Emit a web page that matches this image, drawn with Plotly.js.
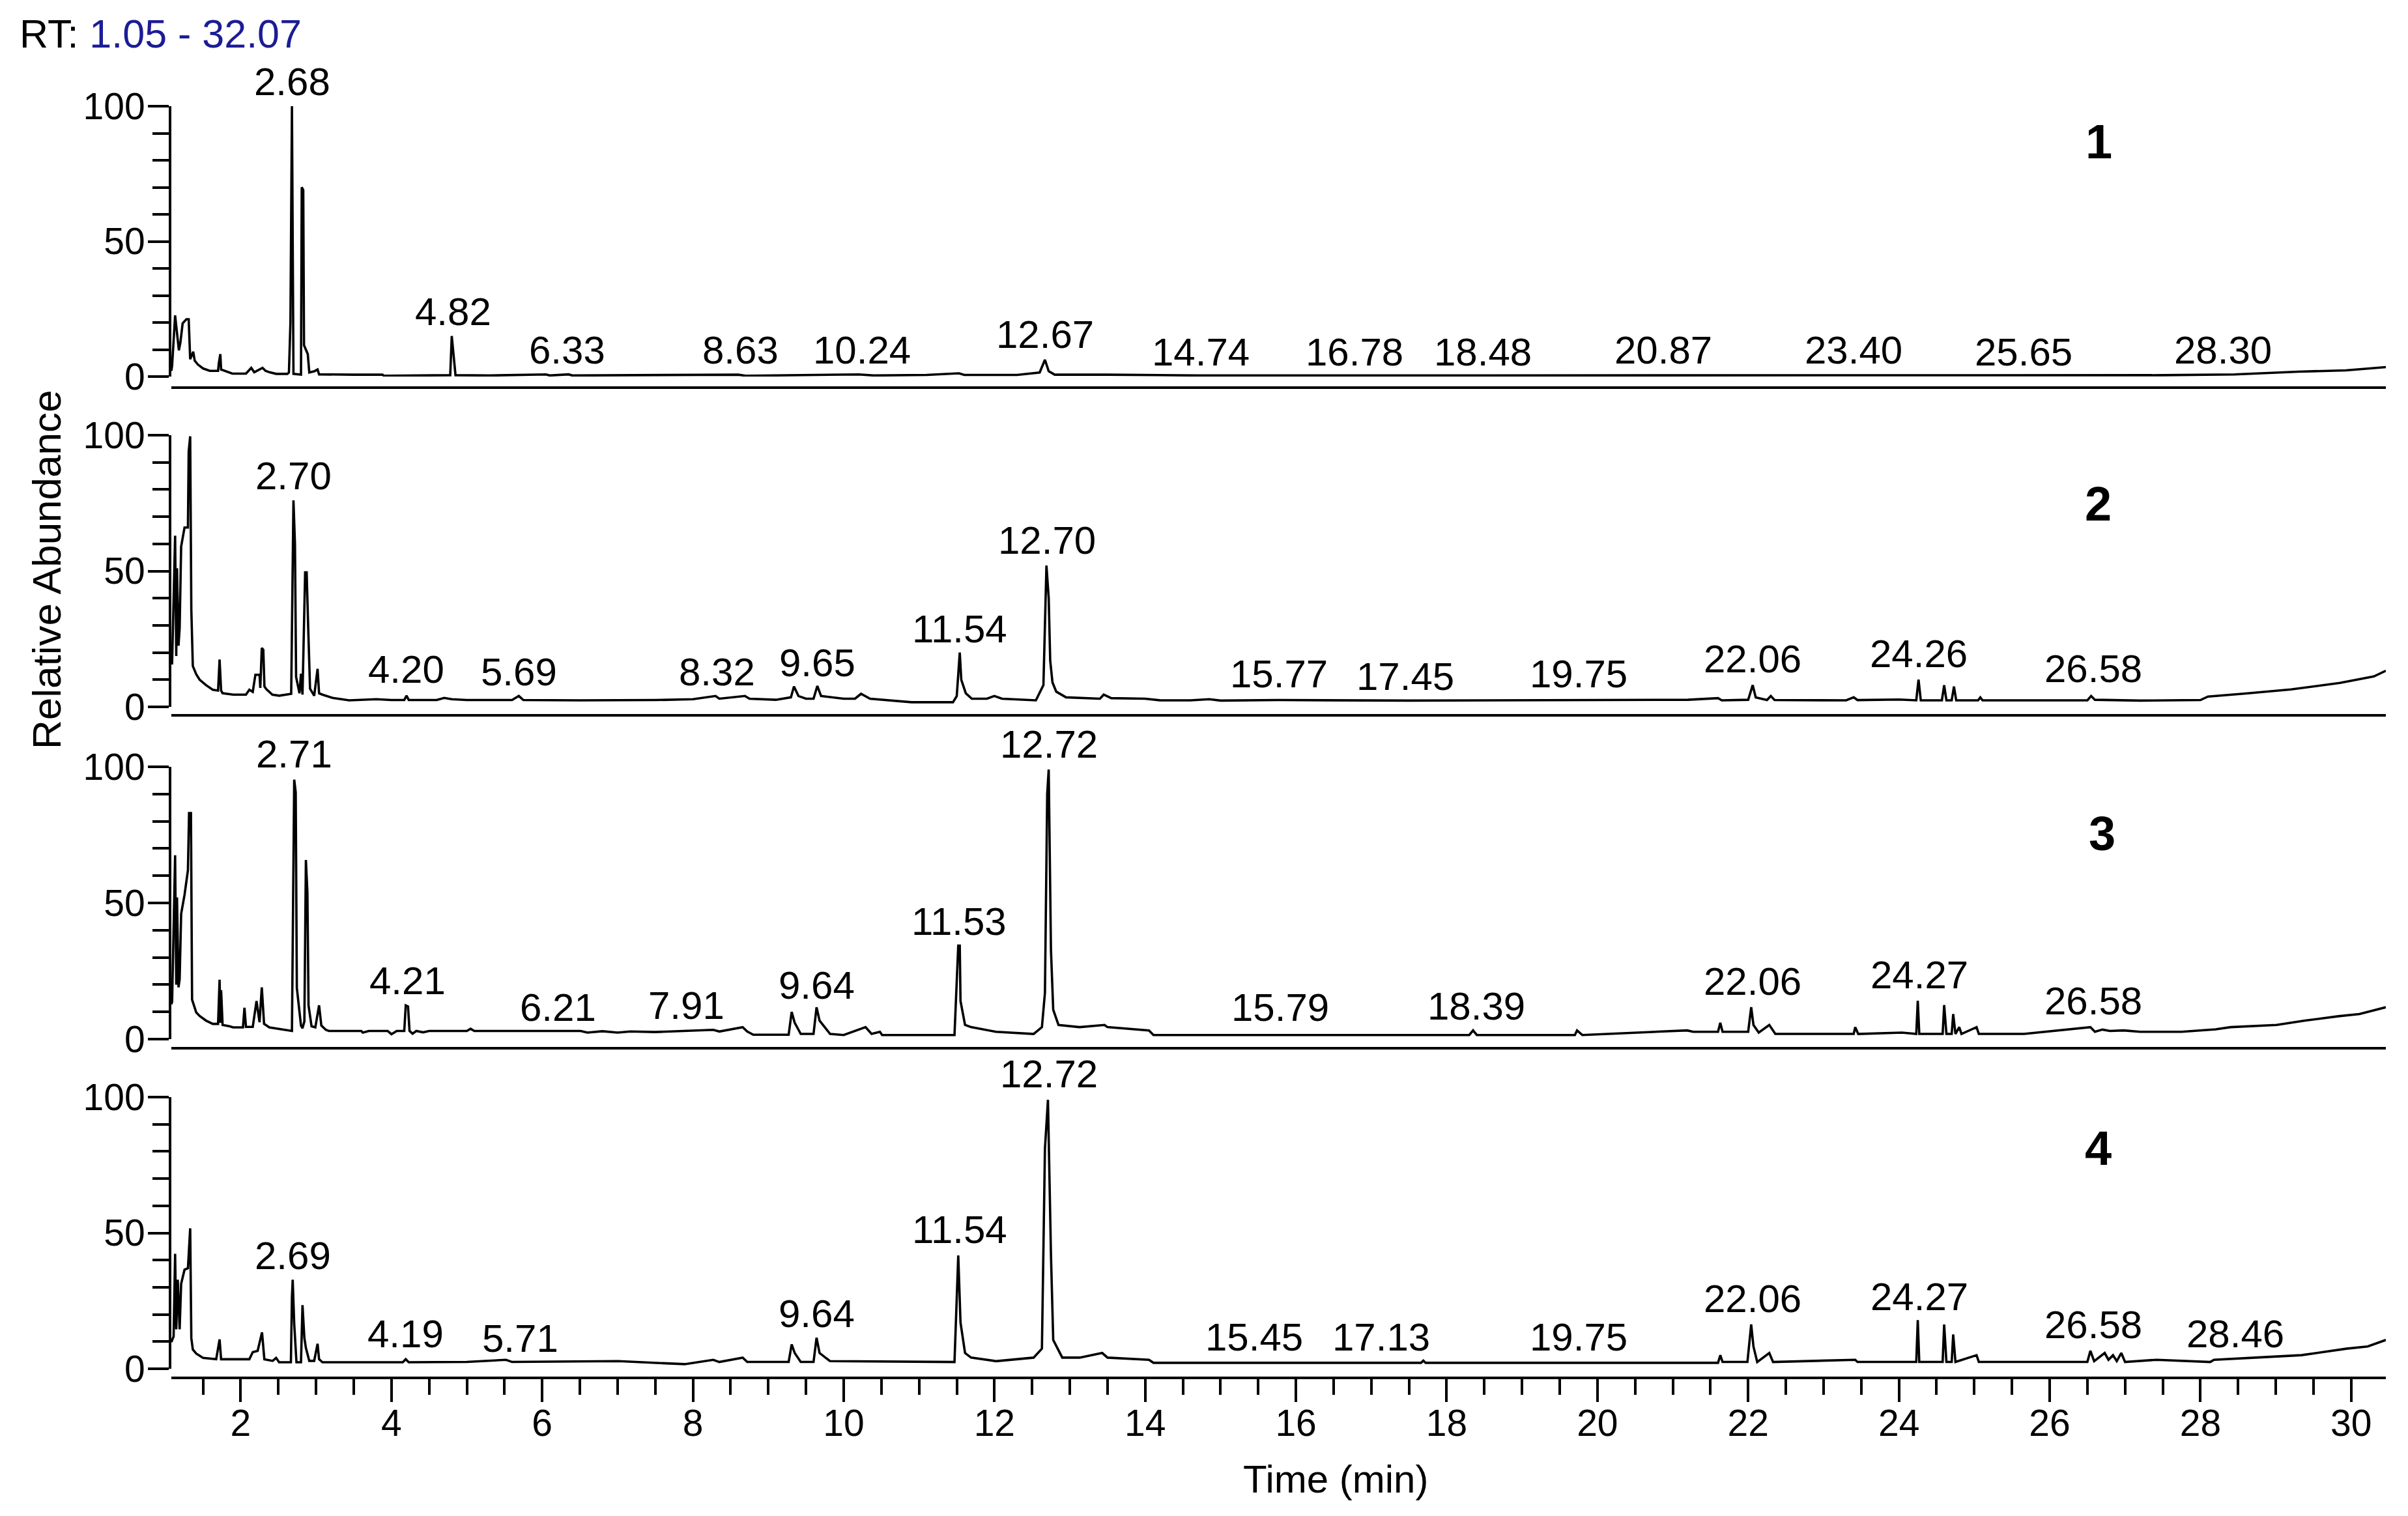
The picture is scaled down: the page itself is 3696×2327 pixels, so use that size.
<!DOCTYPE html>
<html>
<head>
<meta charset="utf-8">
<script src="https://cdn.plot.ly/plotly-3.0.1.min.js"></script>
<style>
  html, body { margin: 0; padding: 0; background: #fff; }
  #chart { width: 3696px; height: 2327px; }
</style>
</head>
<body>
<div id="chart"></div>
<script>
// GC-MS total ion chromatograms, four samples stacked (relative abundance vs RT).

// [time (min), relative abundance] vertices
const trace1 = [
  [1.08,2.1],[1.09,4],[1.13,22.6],[1.15,17.8],[1.18,9.7],[1.20,12.6],[1.23,19.7],[1.28,21.2],[1.31,21.2],
  [1.33,6.4],[1.37,9.2],[1.39,5.9],[1.43,4.5],[1.50,3],[1.59,2.1],[1.70,2.1],[1.71,5],[1.73,8.3],[1.74,2.6],
  [1.89,1.1],[2.07,1.1],[2.14,3.2],[2.18,1.6],[2.29,3.2],[2.33,2.1],[2.38,1.6],[2.47,1],[2.62,1],[2.64,1.5],
  [2.66,20],[2.68,100],[2.70,1],[2.80,0.7],[2.81,70],[2.83,69],[2.84,11.6],[2.89,8.3],[2.91,1.5],[2.98,2],
  [3.02,2.6],[3.04,0.8],[3.5,0.7],[3.88,0.7],[3.9,0.3],[4.3,0.4],[4.78,0.5],[4.80,15],[4.83,5],[4.85,0.5],
  [5.3,0.4],[6.05,0.8],[6.1,0.4],[6.35,0.8],[6.4,0.4],[7.0,0.5],[8.6,0.7],[8.7,0.3],[9.5,0.6],[10.2,0.8],
  [10.4,0.4],[11.1,0.6],[11.53,1.2],[11.6,0.6],[12.3,0.6],[12.6,1.5],[12.67,6.2],[12.72,2],[12.8,0.7],
  [13.5,0.7],[14.7,0.4],[17,0.4],[19,0.4],[20.9,0.6],[23,0.5],[25,0.5],[27.5,0.5],[28.45,0.8],[29.3,1.8],
  [29.93,2.3],[30.25,3],[30.46,3.5]
];
const trace2 = [
  [1.08,16],[1.09,16],[1.13,63],[1.145,18.7],[1.155,51],[1.175,22.5],[1.19,29],[1.21,59],[1.255,66],[1.30,66],
  [1.31,94],[1.33,99.6],[1.345,35.8],[1.365,15],[1.41,12],[1.455,10],[1.54,8],[1.63,6.3],[1.70,6],[1.72,17.4],
  [1.74,6],[1.76,5],[1.90,4.5],[2.07,4.5],[2.115,6.3],[2.16,5.5],[2.195,11.8],[2.25,11.8],[2.26,7],[2.28,21.7],
  [2.30,21],[2.315,7.5],[2.34,6.5],[2.42,4.5],[2.51,4.1],[2.67,4.8],[2.70,76],[2.72,60],[2.735,11],[2.78,5],
  [2.80,12.2],[2.82,4.5],[2.855,49.5],[2.875,49.5],[2.895,29.8],[2.92,6.7],[2.975,4.1],[3.02,14],[3.04,5],
  [3.085,4.5],[3.22,3.3],[3.44,2.4],[3.8,2.8],[4.0,2.5],[4.17,2.5],[4.20,4.1],[4.23,2.5],[4.6,2.5],[4.7,3.3],
  [4.8,2.8],[5.0,2.5],[5.6,2.5],[5.69,4],[5.75,2.5],[6.5,2.4],[7.5,2.5],[8.0,2.8],[8.30,4],[8.35,3],[8.69,4],
  [8.75,3],[9.1,2.6],[9.3,3.5],[9.34,7.5],[9.40,4],[9.5,3],[9.60,3],[9.65,7.7],[9.70,4],[10.0,3],[10.15,3],
  [10.23,4.8],[10.35,3],[10.6,2.5],[10.9,1.7],[11.45,1.7],[11.50,4],[11.54,20],[11.56,10],[11.62,5],[11.7,3],
  [11.9,3],[12.0,4],[12.1,3],[12.55,2.4],[12.65,8],[12.69,52],[12.72,40],[12.74,17],[12.77,9],[12.82,5.6],
  [12.95,3.5],[13.2,3.3],[13.4,3.0],[13.45,4.5],[13.55,3.2],[14.0,3.0],[14.2,2.4],[14.6,2.4],[14.85,2.8],
  [15.0,2.3],[15.77,2.5],[17.5,2.3],[19.75,2.5],[20.56,2.4],[21.2,2.6],[21.6,3.2],[21.65,2.4],[22.0,2.6],
  [22.06,8],[22.1,3.5],[22.25,2.5],[22.3,4],[22.35,2.5],[23.3,2.4],[23.4,3.5],[23.45,2.5],[24.0,2.7],
  [24.23,2.4],[24.26,10],[24.29,2.4],[24.57,2.4],[24.60,8],[24.63,2.4],[24.70,2.4],[24.73,7.5],[24.76,2.4],
  [25.05,2.4],[25.08,3.5],[25.11,2.4],[26.5,2.4],[26.55,4],[26.6,2.6],[27.2,2.3],[28.0,2.5],[28.1,3.8],
  [28.6,4.9],[29.2,6.4],[29.85,8.8],[30.3,11.2],[30.46,13.3]
];
const trace3 = [
  [1.08,12.8],[1.09,13.7],[1.13,67.5],[1.145,20],[1.155,52],[1.175,19],[1.19,22],[1.21,46],[1.255,53],
  [1.30,62],[1.315,83],[1.34,83],[1.355,14.5],[1.41,9.8],[1.455,8.5],[1.54,6.8],[1.63,5.6],[1.70,5.6],
  [1.72,21.8],[1.73,6],[1.74,18],[1.76,5.2],[1.85,4.7],[1.90,4.3],[2.03,4.3],[2.05,11.5],[2.07,4.5],
  [2.16,4.5],[2.21,14],[2.25,6.2],[2.28,19],[2.31,5.6],[2.38,4.3],[2.49,3.8],[2.65,3],[2.68,3],[2.71,95.3],
  [2.73,90.6],[2.745,18.8],[2.80,5],[2.82,4],[2.845,6.5],[2.865,65.8],[2.885,53.8],[2.90,12.4],[2.94,4.7],
  [2.99,4.3],[3.04,12.4],[3.07,5],[3.13,3.4],[3.17,3],[3.6,3],[3.62,2.4],[3.7,3],[3.95,3],[4.0,1.8],
  [4.07,3],[4.17,3],[4.19,12.4],[4.22,12],[4.24,3],[4.28,2],[4.33,3],[4.42,2.5],[4.5,3],[5.0,3],[5.05,3.8],
  [5.1,3],[6.51,3],[6.6,2.4],[6.8,2.9],[7.0,2.4],[7.17,2.8],[7.5,2.6],[8.27,3.4],[8.35,2.8],[8.66,4.4],
  [8.72,2.8],[8.80,1.6],[9.27,1.6],[9.31,10],[9.35,6],[9.43,1.9],[9.60,1.9],[9.64,11.7],[9.68,6.8],
  [9.82,1.9],[10.0,1.5],[10.29,4.4],[10.37,1.9],[10.48,2.7],[10.51,1.5],[11.47,1.5],[11.52,34.3],[11.54,34.3],
  [11.55,14],[11.61,5.2],[11.69,4.4],[12.02,2.7],[12.52,1.9],[12.63,4.4],[12.67,17],[12.70,90],[12.72,99],
  [12.75,32.7],[12.78,10.8],[12.85,5.2],[13.13,4.4],[13.46,5.2],[13.5,4.4],[14.05,3.2],[14.11,1.5],
  [18.3,1.5],[18.35,3.2],[18.4,1.5],[19.7,1.5],[19.73,3.2],[19.8,1.5],[21.19,3.2],[21.27,2.7],[21.6,2.7],
  [21.63,6],[21.66,2.7],[22.0,2.7],[22.04,11.7],[22.07,5.2],[22.14,2.4],[22.28,5.2],[22.36,1.9],[23.40,1.9],
  [23.42,4.4],[23.46,1.9],[24.04,2.4],[24.23,1.9],[24.25,14.1],[24.27,1.9],[24.58,1.9],[24.60,12.5],
  [24.63,1.9],[24.70,1.9],[24.72,9.2],[24.75,1.9],[24.80,4.4],[24.83,1.9],[25.03,4.4],[25.06,1.9],
  [25.66,1.9],[26.54,4.4],[26.6,2.7],[26.7,3.5],[26.8,3],[26.98,3.2],[27.2,2.7],[27.5,2.7],[27.75,2.7],
  [28.2,3.6],[28.4,4.4],[29.01,5.2],[29.39,6.8],[29.83,8.4],[30.11,9.2],[30.46,11.7]
];
const trace4 = [
  [1.08,9.8],[1.11,11.9],[1.13,42.3],[1.145,14.5],[1.165,32.8],[1.19,14.5],[1.21,31.3],[1.255,36.5],
  [1.30,37],[1.33,51.7],[1.345,11.3],[1.365,7.1],[1.41,5.6],[1.50,4],[1.675,3.5],[1.72,10.8],[1.74,3.5],
  [2.115,3.5],[2.16,6.1],[2.225,6.6],[2.283,13.4],[2.314,3.5],[2.424,2.9],[2.47,4],[2.51,2.4],[2.666,2.4],
  [2.68,26.5],[2.69,32.8],[2.71,16.6],[2.74,2.4],[2.80,2.4],[2.82,23.4],[2.845,11.3],[2.865,7.7],[2.91,2.9],
  [2.975,2.9],[3.02,9.2],[3.04,3.5],[3.085,2.4],[4.15,2.4],[4.19,3.5],[4.23,2.4],[5.0,2.5],[5.52,3.3],
  [5.6,2.5],[7.01,2.8],[7.89,1.7],[8.27,3.3],[8.35,2.5],[8.66,4.1],[8.72,2.5],[9.27,2.5],[9.31,9],[9.35,5.8],
  [9.43,2.5],[9.60,2.5],[9.64,11.4],[9.68,5.8],[9.82,2.8],[11.47,2.5],[11.52,41.7],[11.55,17],[11.61,5.8],
  [11.69,4.1],[12.02,2.8],[12.52,4.1],[12.63,7.4],[12.67,81],[12.71,99],[12.75,42],[12.78,10.6],[12.9,4.1],
  [13.13,4.1],[13.43,5.8],[13.5,4.1],[14.05,3.3],[14.11,2.2],[17.66,2.2],[17.69,3.0],[17.72,2.2],[21.6,2.2],
  [21.63,5],[21.66,2.5],[21.99,2.5],[22.04,16.3],[22.07,8.2],[22.12,2.5],[22.28,5.8],[22.33,2.5],[23.42,3.3],
  [23.45,2.5],[24.23,2.5],[24.25,17.9],[24.27,2.5],[24.58,2.5],[24.60,16.3],[24.63,2.5],[24.70,2.5],
  [24.72,12.6],[24.75,2.5],[25.03,5],[25.06,2.5],[26.50,2.5],[26.54,6.6],[26.59,2.8],[26.73,5.8],[26.78,3.3],
  [26.84,5],[26.89,2.8],[26.95,5.8],[27.0,2.5],[27.42,3.3],[28.13,2.5],[28.18,3.3],[28.73,4.1],[29.34,5],
  [29.94,7.4],[30.22,8.2],[30.46,10.6]
];

// peak labels: retention time text and the abundance they sit over
const labels1 = ['2.68','4.82','6.33','8.63','10.24','12.67','14.74','16.78','18.48','20.87','23.40','25.65','28.30'];
const labelY1 = [100, 14.7, 0.6, 0.6, 0.6, 6.5, 0, 0, 0, 0.6, 0.6, 0, 0.6];
const labels2 = ['2.70','4.20','5.69','8.32','9.65','11.54','12.70','15.77','17.45','19.75','22.06','24.26','26.58'];
const labelY2 = [75.9, 4.7, 3.7, 3.7, 7.0, 19.6, 52.2, 2.9, 2.1, 2.9, 8.5, 10.5, 4.8];
const labels3 = ['2.71','4.21','6.21','7.91','9.64','11.53','12.72','15.79','18.39','22.06','24.27','26.58'];
const labelY3 = [95.6, 12.3, 2.6, 3.2, 10.7, 34, 99.2, 2.4, 3.1, 12.1, 14.4, 4.9];
const labels4 = ['2.69','4.19','5.71','9.64','11.54','12.72','15.45','17.13','19.75','22.06','24.27','26.58','28.46'];
const labelY4 = [32.4, 3.7, 2.1, 11.1, 42.1, 99.4, 2.4, 2.4, 2.4, 16.7, 17.3, 7, 3.7];

const panelNames = ['1', '2', '3', '4'];
const rtRange = [1.08, 30.46];

const FONT = 'Liberation Sans, Arial, sans-serif';
const W = 3696, H = 2327;

// pixel layout of each panel (top of 100, bottom of 0, axis line under it)
const panelTop = [163, 668, 1177, 1684];
const panelBottom = [578, 1085, 1595, 2101];
const axisLineY = [595, 1098, 1609, 2115];
const plotLeft = 263, plotRight = 3662;

const traces = [trace1, trace2, trace3, trace4];
const labelSets = [[labels1, labelY1], [labels2, labelY2], [labels3, labelY3], [labels4, labelY4]];

const data = traces.map((tr, i) => ({
  type: 'scatter', mode: 'lines',
  x: tr.map(p => p[0]), y: tr.map(p => p[1]),
  xaxis: i ? 'x' + (i + 1) : 'x',
  yaxis: i ? 'y' + (i + 1) : 'y',
  line: { color: '#000', width: 3.6 },
  hoverinfo: 'skip', showlegend: false,
}));

const layout = {
  width: W, height: H,
  margin: { l: 0, r: 0, t: 0, b: 0 },
  paper_bgcolor: '#fff', plot_bgcolor: '#fff',
  font: { family: FONT, color: '#000', size: 56 },
  showlegend: false,
  annotations: [],
};

const tickFont = { family: FONT, size: 57, color: '#000' };

for (let i = 0; i < 4; i++) {
  const n = i ? String(i + 1) : '';
  const last = i === 3;
  layout['xaxis' + n] = {
    domain: [plotLeft / W, plotRight / W],
    range: rtRange,
    anchor: 'free',
    position: 1 - axisLineY[i] / H,
    showline: true, linecolor: '#000', linewidth: 4,
    showgrid: false, zeroline: false,
    ticks: last ? 'outside' : '',
    showticklabels: last,
    tick0: 0, dtick: 2, ticklen: 35, tickwidth: 4, tickcolor: '#000',
    minor: last ? { dtick: 0.5, ticks: 'outside', ticklen: 24, tickwidth: 4, tickcolor: '#000' } : undefined,
    tickfont: tickFont,
    ticklabelstandoff: -16,
    fixedrange: true,
  };
  layout['yaxis' + n] = {
    domain: [1 - panelBottom[i] / H, 1 - panelTop[i] / H],
    range: [0, 100],
    anchor: 'x' + n,
    showline: true, linecolor: '#000', linewidth: 4,
    showgrid: false, zeroline: false,
    ticks: 'outside', tick0: 0, dtick: 50, ticklen: 32, tickwidth: 4, tickcolor: '#000',
    minor: { dtick: 10, ticks: 'outside', ticklen: 25, tickwidth: 4, tickcolor: '#000' },
    tickfont: tickFont,
    ticklabelstandoff: -7,
    fixedrange: true,
  };

  const [txt, ys] = labelSets[i];
  txt.forEach((t, k) => {
    layout.annotations.push({
      x: parseFloat(t), y: ys[k],
      xref: 'x' + n, yref: 'y' + n,
      text: t, showarrow: false,
      xanchor: 'center', yanchor: 'middle', yshift: 38,
      font: { family: FONT, size: 60, color: '#000' },
    });
  });
}

// sample numbers at the top right of each panel
const numberPos = [[3221, 217], [3220, 773], [3226, 1279], [3220, 1762]];
panelNames.forEach((name, i) => {
  layout.annotations.push({
    x: numberPos[i][0] / W, y: 1 - numberPos[i][1] / H,
    xref: 'paper', yref: 'paper', xanchor: 'center', yanchor: 'middle',
    text: '<b>' + name + '</b>', showarrow: false,
    font: { family: FONT, size: 74, color: '#000' },
  });
});

// retention-time window header and axis titles
layout.annotations.push(
  {
    x: 28 / W, y: 1 - 52 / H, xref: 'paper', yref: 'paper',
    xanchor: 'left', yanchor: 'middle', showarrow: false,
    text: 'RT: <span style="color:#1c1c96">1.05 - 32.07</span>',
    font: { family: FONT, size: 61, color: '#000' },
  },
  {
    x: 71 / W, y: 1 - 874 / H, xref: 'paper', yref: 'paper',
    xanchor: 'center', yanchor: 'middle', showarrow: false, textangle: -90,
    text: 'Relative Abundance',
    font: { family: FONT, size: 62, color: '#000' },
  },
  {
    x: 2050 / W, y: 1 - 2270 / H, xref: 'paper', yref: 'paper',
    xanchor: 'center', yanchor: 'middle', showarrow: false,
    text: 'Time (min)',
    font: { family: FONT, size: 60, color: '#000' },
  }
);

Plotly.newPlot('chart', data, layout, { displayModeBar: false, staticPlot: true });
</script>
</body>
</html>
